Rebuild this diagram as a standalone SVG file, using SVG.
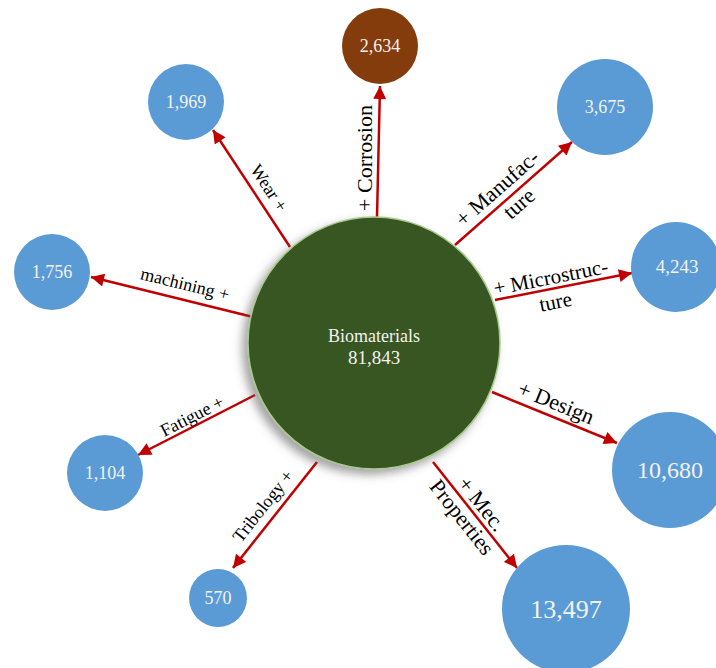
<svg xmlns="http://www.w3.org/2000/svg" width="716" height="668" viewBox="0 0 716 668">
<style>
.bg{fill:#ffffff}
.blue{fill:#5B9BD5}
.brown{fill:#843C0C}
.hub{fill:#385723;stroke:#A9C98F;stroke-width:1.5}
.val{font-family:"Liberation Serif","Times New Roman",serif;fill:#F2F2F2;text-anchor:middle}
.lbl{font-family:"Liberation Serif","Times New Roman",serif;fill:#000000;text-anchor:middle}
.edge{stroke:#C00000;stroke-width:2.5;fill:none;marker-end:url(#ah)}
</style>
<defs>
<marker id="ah" viewBox="0 0 10 10" markerWidth="15" markerHeight="13" markerUnits="userSpaceOnUse" refX="10" refY="5" orient="auto">
<path d="M0,0 L10,5 L0,10 z" fill="#C00000"/>
</marker>
<filter id="sh" x="-20%" y="-20%" width="140%" height="140%">
<feDropShadow dx="-5" dy="5" stdDeviation="5" flood-color="#555555" flood-opacity="0.55"/>
</filter>
</defs>
<rect class="bg" x="0" y="0" width="716" height="668"/>

<g id="connectors">
<line class="edge" x1="377" y1="217" x2="380" y2="86"/>
<line class="edge" x1="290" y1="247" x2="213" y2="130"/>
<line class="edge" x1="253" y1="317" x2="91" y2="277"/>
<line class="edge" x1="255" y1="395" x2="138" y2="455"/>
<line class="edge" x1="317" y1="462" x2="233" y2="568"/>
<line class="edge" x1="455" y1="245" x2="572" y2="142"/>
<line class="edge" x1="495" y1="300" x2="632" y2="273"/>
<line class="edge" x1="492" y1="392" x2="617" y2="443"/>
<line class="edge" x1="433" y1="462" x2="517" y2="568"/>
</g>

<g id="labels">
<text class="lbl" font-size="22" transform="translate(365,158) rotate(-90)" y="7">+ Corrosion</text>
<text class="lbl" font-size="18" transform="translate(269,188) rotate(56.6)" y="6">Wear +</text>
<text class="lbl" font-size="18" transform="translate(185,284) rotate(13.9)" y="6">machining +</text>
<text class="lbl" font-size="18" transform="translate(192,416) rotate(-27)" y="6">Fatigue +</text>
<text class="lbl" font-size="18" transform="translate(263,506) rotate(-51.6)" y="6">Tribology +</text>
<g transform="translate(506,198) rotate(-41.4)">
<text class="lbl" font-size="22" y="-6">+ Manufac-</text>
<text class="lbl" font-size="22" x="6" y="20">ture</text>
</g>
<g transform="translate(553,289) rotate(-11.1)">
<text class="lbl" font-size="21" y="-5">+ Microstruc-</text>
<text class="lbl" font-size="21" y="20">ture</text>
</g>
<text class="lbl" font-size="22" transform="translate(556,403) rotate(22.2)" y="7">+ Design</text>
<g transform="translate(471,510) rotate(51.6)">
<text class="lbl" font-size="22" x="2" y="-5">+ Mec.</text>
<text class="lbl" font-size="22" y="19">Properties</text>
</g>
</g>

<g id="node-biomaterials">
<circle class="hub" cx="374" cy="343" r="126" filter="url(#sh)"/>
<text class="val" font-size="18" x="374" y="342">Biomaterials</text>
<text class="val" font-size="19" x="374" y="364">81,843</text>
</g>
<g id="node-corrosion">
<circle class="brown" cx="380" cy="46" r="38"/>
<text class="val" font-size="18" x="380" y="52">2,634</text>
</g>
<g id="node-wear">
<circle class="blue" cx="186" cy="102" r="38"/>
<text class="val" font-size="18" x="186" y="108">1,969</text>
</g>
<g id="node-machining">
<circle class="blue" cx="52" cy="272" r="38"/>
<text class="val" font-size="18" x="52" y="278">1,756</text>
</g>
<g id="node-fatigue">
<circle class="blue" cx="105" cy="473" r="38"/>
<text class="val" font-size="18" x="105" y="479">1,104</text>
</g>
<g id="node-tribology">
<circle class="blue" cx="218" cy="598" r="29"/>
<text class="val" font-size="18" x="218" y="604">570</text>
</g>
<g id="node-manufacture">
<circle class="blue" cx="605" cy="107" r="48"/>
<text class="val" font-size="18" x="605" y="113">3,675</text>
</g>
<g id="node-microstructure">
<circle class="blue" cx="676" cy="267" r="45"/>
<text class="val" font-size="19" x="677" y="273">4,243</text>
</g>
<g id="node-design">
<circle class="blue" cx="670" cy="470" r="58"/>
<text class="val" font-size="24" x="670" y="478">10,680</text>
</g>
<g id="node-mec-properties">
<circle class="blue" cx="566" cy="609" r="64"/>
<text class="val" font-size="26" x="566" y="618">13,497</text>
</g>
</svg>
